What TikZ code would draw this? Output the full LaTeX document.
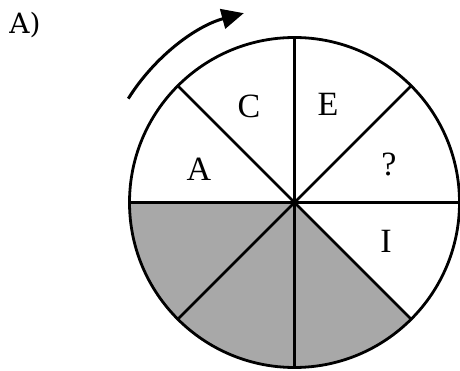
\documentclass[tikz,border=0pt]{standalone}
\usepackage{fontspec}
\setmainfont{Liberation Serif}
\newfontfamily\labelfont{DejaVu Serif}
\usetikzlibrary{arrows.meta}
\definecolor{sectorgray}{HTML}{A8A8A8}
\begin{document}
\begin{tikzpicture}[x=1pt,y=-1pt,
  wheelline/.style={line width=2.8pt,line cap=round},
  letter/.style={font=\fontsize{34}{34}\selectfont,inner sep=0pt},
  turnarrow/.style={line width=3pt,-{Triangle[length=22pt,width=20pt]}}]
\useasboundingbox (0,0) rectangle (460,371);
\coordinate (O) at (294.5,202.5);
% gray sectors (visual angles 180..315; y axis is flipped, so angles are negated)
\fill[sectorgray] (O) -- ++(-165,0) arc[start angle=-180,end angle=-315,radius=165] -- cycle;
% diameters
\draw[wheelline] (O) ++(0,-165) coordinate (t) -- ++(0,330) coordinate (b);
\draw[wheelline] (O) ++(-165,0) coordinate (l) -- ++(330,0) coordinate (r);
\draw[wheelline] (O) ++(-116.67,-116.67) coordinate (tl) -- ++(233.35,233.35) coordinate (br);
\draw[wheelline] (O) ++(116.67,-116.67) coordinate (tr) -- ++(-233.35,233.35) coordinate (bl);
\draw[wheelline] (O) circle[radius=165];
% labels
\node[letter] (lc) at (249,106) {C};
\node[letter] (le) at (328,104) {E};
\node[letter] (la) at (199,169) {A};
\node[letter] (lq) at (389,164) {?};
\node[letter] (li) at (386,241) {I};
\node[font=\labelfont\fontsize{28}{28}\selectfont,inner sep=0pt] (title) at (25,25) {A)};
% rotation arrow
\draw[turnarrow] (O) ++(-148:196) coordinate (as) arc[start angle=-148,end angle=-105,radius=196] coordinate (ae);
\end{tikzpicture}
\end{document}
